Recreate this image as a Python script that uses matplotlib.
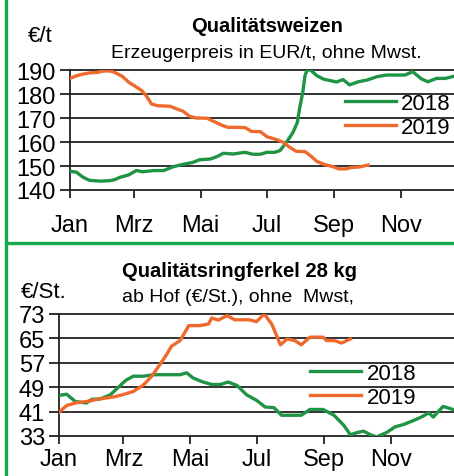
import matplotlib.pyplot as plt
from matplotlib.lines import Line2D

plt.rcParams['font.family'] = ['Liberation Sans', 'DejaVu Sans']

# month ticks (day of year)
month_days = [0, 59, 120, 181, 243, 304]
month_labels = ["Jan", "Mrz", "Mai", "Jul", "Sep", "Nov"]

# Qualitätsweizen, 2018
wz18_day = [0, 6, 12, 18, 28, 37, 41, 46, 54, 61, 67, 77, 86, 95, 104, 113, 119, 129,
            135, 141, 150, 156, 161, 168, 175, 181, 188, 193, 199, 205, 209, 211, 214,
            216, 218, 221, 227, 233, 239, 245, 251, 257, 265, 273, 282, 291, 300, 308,
            315, 323, 329, 337, 345, 353]
wz18_val = [147.8, 147.4, 145.3, 144.0, 143.7, 143.9, 144.3, 145.3, 146.3, 148.1, 147.6,
            148.1, 148.1, 149.7, 150.7, 151.5, 152.6, 152.9, 153.9, 155.3, 155.0, 155.4,
            155.7, 154.9, 154.9, 155.7, 155.7, 156.4, 159.9, 164.0, 168.2, 173.8, 180.7,
            187.6, 190.0, 190.0, 187.6, 186.2, 185.6, 185.0, 186.0, 183.8, 185.1, 185.8,
            187.2, 187.9, 187.9, 187.9, 189.3, 186.3, 185.1, 186.5, 186.5, 187.4]

# Qualitätsweizen, 2019
wz19_day = [0, 6, 12, 18, 25, 31, 37, 41, 48, 54, 60, 66, 70, 75, 81, 92, 98, 104, 110,
            116, 126, 132, 139, 145, 153, 161, 167, 175, 181, 190, 196, 202, 208, 216,
            221, 227, 234, 242, 247, 254, 259, 266, 274]
wz19_val = [186.5, 187.6, 188.3, 188.8, 189.0, 189.6, 189.6, 189.0, 187.4, 184.9, 183.2,
            181.4, 179.3, 175.8, 175.1, 174.9, 173.8, 172.8, 170.7, 170.0, 169.9, 168.6,
            167.1, 166.1, 166.1, 166.0, 164.4, 164.3, 162.2, 161.0, 159.9, 157.8, 156.1,
            156.0, 154.3, 151.9, 150.6, 149.7, 148.8, 148.8, 149.4, 149.6, 150.4]

# Qualitätsringferkel, 2018
fk18_day = [0, 7, 15, 25, 30, 38, 47, 53, 61, 68, 77, 87, 99, 111, 117, 123, 132, 140,
            148, 155, 163, 172, 181, 189, 197, 204, 215, 222, 230, 242, 252, 261, 267,
            273, 279, 285, 291, 300, 308, 316, 325, 332, 339, 343, 352, 362]
fk18_val = [46.3, 46.7, 44.3, 43.8, 45.0, 45.2, 46.5, 48.5, 51.2, 52.6, 52.6, 53.1, 53.1,
            53.1, 53.7, 52.0, 50.7, 49.9, 49.9, 50.7, 49.6, 46.5, 44.7, 42.5, 42.3, 39.8,
            39.8, 39.8, 41.7, 41.7, 39.8, 36.5, 33.4, 34.1, 34.6, 33.5, 32.7, 34.1, 36.0,
            36.8, 38.1, 39.2, 40.6, 39.2, 42.7, 41.6]

# Qualitätsringferkel, 2019
fk19_day = [0, 7, 16, 25, 38, 50, 59, 68, 77, 85, 93, 99, 103, 111, 119, 129, 137, 140,
            146, 154, 161, 174, 181, 188, 195, 203, 209, 216, 222, 230, 242, 245, 252,
            259, 267]
fk19_val = [40.8, 43.0, 43.9, 44.3, 45.2, 45.8, 46.6, 47.6, 49.6, 52.6, 56.7, 59.9, 62.4,
            64.3, 69.2, 69.2, 69.7, 71.7, 71.0, 72.5, 71.1, 71.1, 70.5, 73.0, 69.7, 62.9,
            64.8, 64.3, 62.9, 65.4, 65.4, 64.3, 64.3, 63.5, 64.8]

GREEN = "#1f9444"
ORANGE = "#ee6a2c"
FRAME = "#14a94c"

fig = plt.figure(figsize=(4.54, 4.77), dpi=100)
W, H = 454, 477


def px_axes(left, top, right, bottom):
    return fig.add_axes([left / W, 1 - bottom / H, (right - left) / W, (bottom - top) / H])


def style(ax, yticks, xlim, ylim, xpad):
    ax.set_xlim(*xlim)
    ax.set_ylim(*ylim)
    ax.set_yticks(yticks)
    ax.set_yticklabels([str(v) for v in yticks])
    ax.set_xticks(month_days)
    ax.set_xticklabels(month_labels)
    for y in yticks:
        ax.axhline(y, color="#222222", lw=1.3, zorder=1, clip_on=False)
    for s in ["top", "right"]:
        ax.spines[s].set_visible(False)
    ax.spines["bottom"].set_visible(False)
    ax.spines["left"].set_linewidth(1.3)
    ax.spines["left"].set_color("#222222")
    ax.tick_params(axis="y", length=7, width=1.3, pad=3, labelsize=17, color="#222222")
    ax.tick_params(axis="x", length=6, width=1.3, pad=xpad, labelsize=17, color="#222222")


def add_legend(ax, anchor):
    ax.legend([Line2D([], [], color=GREEN, lw=2.4), Line2D([], [], color=ORANGE, lw=2.4)],
              ["2018", "2019"], loc="upper left", bbox_to_anchor=anchor,
              frameon=False, fontsize=16, handlelength=2.3, handletextpad=0.25,
              labelspacing=0.15, borderpad=0, borderaxespad=0)


# top panel
ax1 = px_axes(70, 71, 454, 191)
ax1.plot(wz18_day, wz18_val, color=GREEN, lw=2.4, zorder=3)
ax1.plot(wz19_day, wz19_val, color=ORANGE, lw=2.4, zorder=3)
style(ax1, [140, 150, 160, 170, 180, 190], (0, 353), (140, 190), 11)
add_legend(ax1, (0.715, 0.81))

fig.text(267 / W, 1 - 27 / H, "Qualitätsweizen", ha="center", va="center",
         fontsize=14.5, fontweight="bold")
fig.text(266 / W, 1 - 53 / H, "Erzeugerpreis in EUR/t, ohne Mwst.", ha="center",
         va="center", fontsize=14)
fig.text(40 / W, 1 - 37 / H, "€/t", ha="center", va="center", fontsize=16)

# bottom panel
ax2 = px_axes(59, 315, 454, 437)
ax2.plot(fk18_day, fk18_val, color=GREEN, lw=2.4, zorder=3)
ax2.plot(fk19_day, fk19_val, color=ORANGE, lw=2.4, zorder=3)
style(ax2, [33, 41, 49, 57, 65, 73], (0, 362), (33, 73), 3)
add_legend(ax2, (0.635, 0.6))

fig.text(239 / W, 1 - 272 / H, "Qualitätsringferkel 28 kg", ha="center", va="center",
         fontsize=14.5, fontweight="bold")
fig.text(238 / W, 1 - 298 / H, "ab Hof (€/St.), ohne  Mwst,", ha="center",
         va="center", fontsize=14)
fig.text(44 / W, 1 - 292 / H, "€/St.", ha="center", va="center", fontsize=16)

# green frame
fig.add_artist(Line2D([6 / W, 6 / W], [0, 1], color=FRAME, lw=2.4, transform=fig.transFigure))
fig.add_artist(Line2D([6 / W, 1], [1 - 244 / H, 1 - 244 / H], color=FRAME, lw=2.4,
                      transform=fig.transFigure))

fig.savefig("out.png", dpi=100)
